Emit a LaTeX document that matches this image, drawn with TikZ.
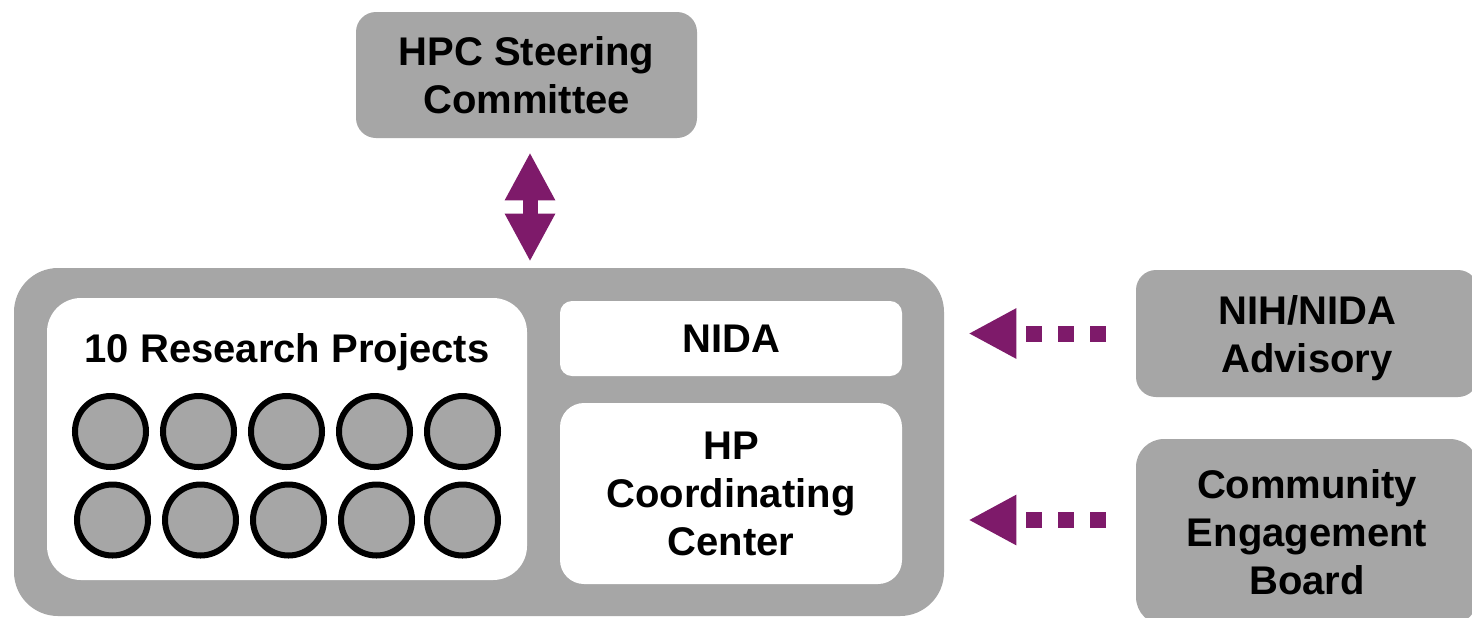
\documentclass[tikz,border=0pt]{standalone}
\usepackage{fontspec}
\setmainfont{Liberation Sans}
\usetikzlibrary{arrows.meta}
\definecolor{boxgray}{HTML}{A6A6A6}
\definecolor{purp}{HTML}{7E1A6A}
\tikzset{
  graybox/.style={fill=boxgray, draw=none, inner sep=0pt, align=center, text depth=0pt, font=\fontsize{20}{24}\selectfont\bfseries},
  whitebox/.style={fill=white, draw=none, inner sep=0pt, align=center, text depth=0pt, font=\fontsize{20}{24}\selectfont\bfseries},
  proj/.style={circle, fill=boxgray, draw=black, line width=3pt, minimum size=35.5pt, inner sep=0pt},
  dblarrow/.style={purp, line width=7.5pt, {Triangle[width=23.5pt,length=24pt]}-{Triangle[width=23.5pt,length=24pt]}},
  dotarrow/.style={purp, line width=8pt, dash pattern=on 8pt off 8pt, line cap=butt, -{Triangle[width=23.5pt,length=24pt]}}
}
\begin{document}
\begin{tikzpicture}[x=0.5pt,y=-0.5pt]
\useasboundingbox (0,0) rectangle (1472,617);
\clip (0,0) rectangle (1472,617);
\fill[white] (0,0) rectangle (1472,617);
% top box
\node[graybox, rounded corners=10pt, minimum width=170.5pt, minimum height=63pt] (steer) at (526.5,75) {HPC Steering\\Committee};
% outer box
\node[graybox, rounded corners=22pt, minimum width=465pt, minimum height=174pt] (outer) at (479,442) {};
\node[whitebox, rounded corners=17pt, minimum width=240pt, minimum height=141pt] (research) at (287,439) {};
\node[whitebox, fill=none] (rtitle) at (287,348) {10 Research Projects};
\node[whitebox, rounded corners=6pt, minimum width=171pt, minimum height=37.5pt] (nida) at (731,338.5) {NIDA};
\node[whitebox, rounded corners=12pt, minimum width=171pt, minimum height=90.5pt] (hpcc) at (731,493.5) {HP\\Coordinating\\Center};
% circles
\foreach \i/\x in {1/110.5,2/198.5,3/286.5,4/374.5,5/462.5}{
  \node[proj] (c\i) at (\x,431.5) {};
}
\foreach \i/\x in {6/112.5,7/200.5,8/288.5,9/376.5,10/462.5}{
  \node[proj] (c\i) at (\x,520) {};
}
% right boxes
\node[graybox, rounded corners=10pt, minimum width=171pt, minimum height=63.5pt] (nih) at (1307,333.5) {NIH/NIDA\\Advisory};
\node[graybox, rounded corners=14pt, minimum width=171pt, minimum height=93pt] (ceb) at (1307,532) {Community\\Engagement\\Board};
% connectors
\coordinate (sA) at ([xshift=1.75pt,yshift=-7pt]steer.south);
\coordinate (sB) at ([yshift=3pt]sA |- outer.north);
\draw[dblarrow] (sA) -- (sB);
\coordinate (nA) at ([xshift=-15pt]nih.west);
\coordinate (nB) at ([xshift=12pt]outer.east |- nih.west);
\draw[dotarrow] (nA) -- (nB);
\coordinate (cA) at ([xshift=-15pt]ceb.west |- 0,520);
\coordinate (cB) at ([xshift=12pt]outer.east |- 0,520);
\draw[dotarrow] (cA) -- (cB);
\end{tikzpicture}
\end{document}
